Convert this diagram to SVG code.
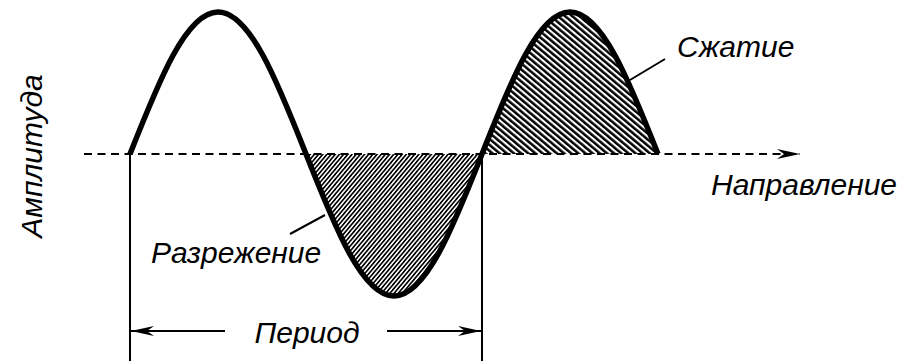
<svg xmlns="http://www.w3.org/2000/svg" width="908" height="361" viewBox="0 0 908 361">
<style>
  text { font-family: "Liberation Sans", Arial, sans-serif; font-style: italic; font-size: 30px; fill: #000; }
  .wave { fill: none; stroke: #000; stroke-width: 5.5; stroke-linejoin: round; }
  .axis { fill: none; stroke: #000; stroke-width: 2; stroke-dasharray: 8 5.5; }
  .thin { fill: none; stroke: #000; stroke-width: 2; }
</style>
<defs>
  <pattern id="hatchR" width="3.2" height="3.2" patternUnits="userSpaceOnUse" patternTransform="rotate(40)">
    <line x1="0.8" y1="-1" x2="0.8" y2="4.2" stroke="#000" stroke-width="1.7"/>
  </pattern>
  <pattern id="hatchC" width="4.6" height="4.6" patternUnits="userSpaceOnUse" patternTransform="rotate(-50)">
    <line x1="1.2" y1="-1" x2="1.2" y2="5.6" stroke="#000" stroke-width="2.6"/>
  </pattern>
  <marker id="arr" markerUnits="userSpaceOnUse" markerWidth="24" markerHeight="12" viewBox="0 -6 24 12" refX="23" refY="0" orient="auto-start-reverse">
    <path d="M0,-5 L23,0 L0,5 L7,0 Z" fill="#000"/>
  </marker>
</defs>
<g id="fills">
  <path id="rarefaction-fill" d="M306,154 C334.7,226.7 362.15,296 394,296 C425.85,296 453.3,226.7 482,154 Z" fill="url(#hatchR)"/>
  <path id="compression-fill" d="M482,154 C510.7,81.3 538.15,12 570,12 C601.85,12 629.3,81.3 658,154 Z" fill="url(#hatchC)"/>
</g>
<g id="connectors">
  <line class="axis" x1="84" y1="154" x2="800" y2="154" marker-end="url(#arr)"/>
  <line class="thin" x1="130" y1="154" x2="130" y2="361"/>
  <line class="thin" x1="482" y1="154" x2="482" y2="361"/>
  <line class="thin" x1="225" y1="331" x2="131" y2="331" marker-end="url(#arr)"/>
  <line class="thin" x1="387" y1="331" x2="481" y2="331" marker-end="url(#arr)"/>
  <line class="thin" x1="630" y1="80" x2="665" y2="59"/>
  <line class="thin" x1="290" y1="234" x2="325" y2="215"/>
</g>
<g id="wave">
  <path class="wave" d="M130,154 C158.7,81.3 186.15,12 218,12 C249.85,12 277.3,81.3 306,154 C334.7,226.7 362.15,296 394,296 C425.85,296 453.3,226.7 482,154 C510.7,81.3 538.15,12 570,12 C601.85,12 629.3,81.3 658,154"/>
</g>
<g id="label-amplitude"><text transform="translate(42,156) rotate(-90)" text-anchor="middle">Амплитуда</text></g>
<g id="label-direction"><text x="711" y="195">Направление</text></g>
<g id="label-compression"><text x="677" y="57">Сжатие</text></g>
<g id="label-rarefaction"><text x="151" y="263">Разрежение</text></g>
<g id="label-period"><text x="307" y="343" text-anchor="middle">Период</text></g>
</svg>
